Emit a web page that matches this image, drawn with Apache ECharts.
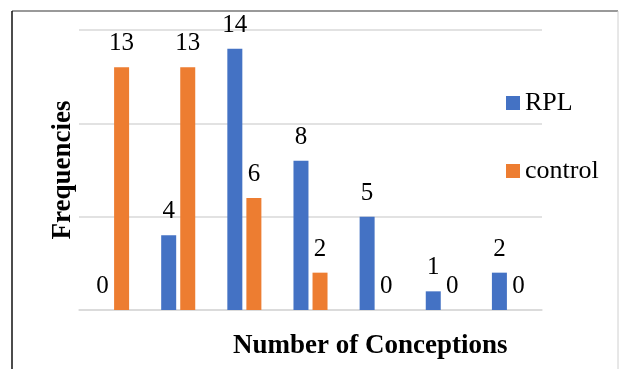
<!DOCTYPE html>
<html>
<head>
<meta charset="utf-8">
<script src="https://cdn.jsdelivr.net/npm/echarts@6/dist/echarts.min.js"></script>
<style>
  html, body { margin: 0; padding: 0; background: #fff; }
  #main { width: 622px; height: 369px; }
</style>
</head>
<body>
<div id="main"></div>
<script>
var categories = ['0', '1', '2', '3', '4', '5', '6'];
var rplValues = [0, 4, 14, 8, 5, 1, 2];
var controlValues = [13, 13, 6, 2, 0, 0, 0];
var yTicks = { min: 0, max: 15, interval: 5 };

var myChart = echarts.init(document.getElementById('main'));
var serif = 'Liberation Serif, Times New Roman, serif';

var barLabel = {
    show: true,
    position: 'top',
    distance: 11,
    fontSize: 25,
    color: '#000',
    fontFamily: serif
};

option = {
    animation: false,
    title: {
        text: 'Number of Conceptions',
        left: 228,
        top: 328,
        textStyle: {
            fontFamily: serif,
            fontWeight: 'bold',
            fontSize: 27,
            color: '#000'
        }
    },
    legend: {
        orient: 'vertical',
        left: 501,
        top: 85,
        itemWidth: 14,
        itemHeight: 14,
        itemGap: 42,
        icon: 'rect',
        textStyle: { fontFamily: serif, fontSize: 26, color: '#000' },
        data: ['RPL', 'control']
    },
    grid: { left: 79, right: 80, top: 30, bottom: 59 },
    xAxis: {
        type: 'category',
        data: categories,
        axisLine: { lineStyle: { color: '#d9d9d9', width: 1.5 } },
        axisTick: { show: false },
        axisLabel: { show: false }
    },
    yAxis: {
        type: 'value',
        min: yTicks.min,
        max: yTicks.max,
        interval: yTicks.interval,
        name: 'Frequencies',
        nameLocation: 'middle',
        nameGap: 2,
        nameTextStyle: {
            fontFamily: serif,
            fontWeight: 'bold',
            fontSize: 27,
            color: '#000'
        },
        axisLine: { show: false },
        axisTick: { show: false },
        axisLabel: { show: false },
        splitLine: { lineStyle: { color: '#d9d9d9', width: 1.5 } }
    },
    graphic: [
        { type: 'line', shape: { x1: 12, y1: 11, x2: 618, y2: 11 }, style: { stroke: '#777', lineWidth: 1.5 } },
        { type: 'line', shape: { x1: 12, y1: 11, x2: 12, y2: 369 }, style: { stroke: '#111', lineWidth: 1.5 } },
        { type: 'line', shape: { x1: 618, y1: 11, x2: 618, y2: 369 }, style: { stroke: '#d0d0d0', lineWidth: 1 } }
    ],
    series: [
        {
            name: 'RPL',
            type: 'bar',
            data: rplValues,
            barWidth: 15,
            barGap: '27%',
            itemStyle: { color: '#4472C4' },
            label: barLabel
        },
        {
            name: 'control',
            type: 'bar',
            data: controlValues,
            barWidth: 15,
            itemStyle: { color: '#ED7D31' },
            label: barLabel
        }
    ]
};
myChart.setOption(option);
</script>
</body>
</html>
